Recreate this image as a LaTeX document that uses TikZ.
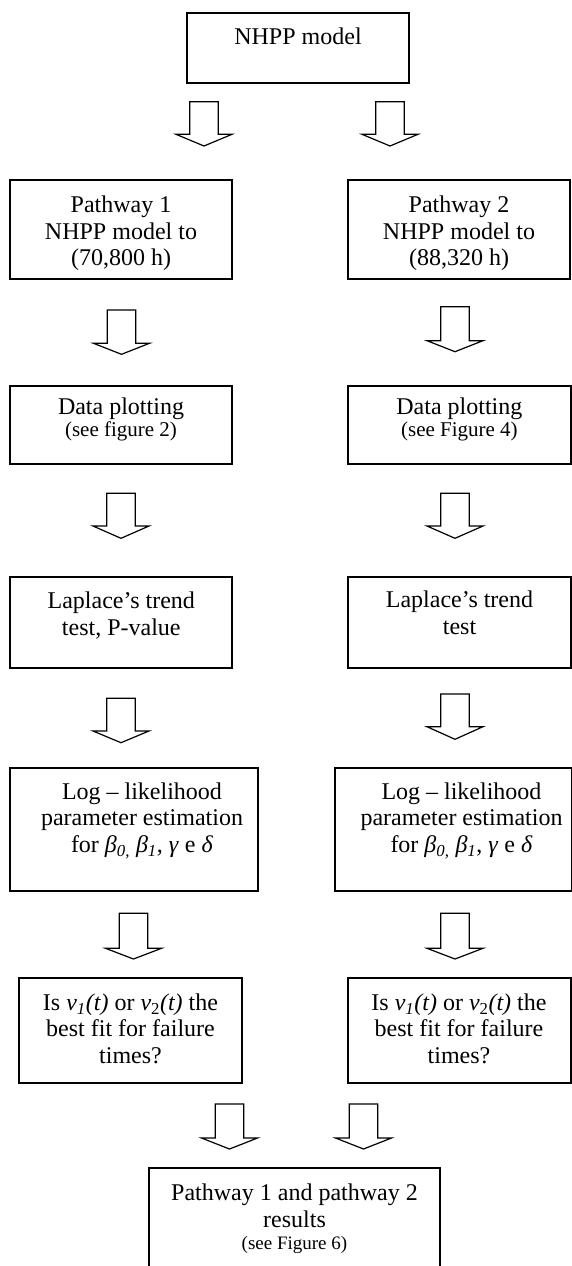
\documentclass[tikz,border=0pt]{standalone}
\usepackage{fontspec}
\setmainfont{Liberation Serif}
\usetikzlibrary{fit}
\newcommand{\blockarr}[4]{%
  \draw[arrowline] (#1-14.3,#2) -- (#1+14.3,#2) -- (#1+14.3,#3) -- (#1+28,#3)
    -- (#1,#4) -- (#1-28,#3) -- (#1-14.3,#3) -- cycle;}
\newcommand{\sm}[2]{{\fontsize{#1}{#1}\selectfont #2}}
\begin{document}
\begin{tikzpicture}[x=1pt,y=-1pt,
  box/.style={draw, line width=1.2pt, inner sep=0pt},
  txt/.style={align=center, inner sep=0pt, font=\fontsize{24}{26.7}\selectfont},
  arrowline/.style={draw, line width=1.2pt, line join=miter, fill=white}]
\useasboundingbox (0,0) rectangle (572,1266);
% boxes
\node[box, fit={(187,13) (409,83)}] (top) {};
\node[box, fit={(10,180) (232,279)}] (p1) {};
\node[box, fit={(348,180) (570,279)}] (p2) {};
\node[box, fit={(10,386) (232,464)}] (d1) {};
\node[box, fit={(348,386) (571,464)}] (d2) {};
\node[box, fit={(10,577) (232,668)}] (l1) {};
\node[box, fit={(348,577) (571,668)}] (l2) {};
\node[box, fit={(10,768) (258,891)}] (g1) {};
\node[box, fit={(335,768) (571.4,891)}] (g2) {};
\node[box, fit={(19,978) (242,1083)}] (i1) {};
\node[box, fit={(348,978) (571,1083)}] (i2) {};
\node[box, fit={(149,1168) (440,1272)}] (res) {};
% texts
\node[txt] (topT) at (298,35.8) {NHPP model};
\node[txt] (p1T) at (121,233.3) {Pathway 1\\NHPP model to\\(70,800 h)};
\node[txt] (p2T) at (459,233.3) {Pathway 2\\NHPP model to\\(88,320 h)};
\node[txt] (d1T) at (121,419.7) {Data plotting\\[-4.4pt]\sm{21}{(see figure 2)}};
\node[txt] (d2T) at (459.4,419.7) {Data plotting\\[-4.4pt]\sm{21}{(see Figure 4)}};
\node[txt] (l1T) at (121.3,615.5) {Laplace’s trend\\test, P-value};
\node[txt] (l2T) at (459.5,612.9) {Laplace’s trend\\test};
\node[txt] (g1T) at (142,820.6) {Log – likelihood\\parameter estimation\\for \textit{β}\textsubscript{\textit{0,}} \textit{β}\textsubscript{\textit{1}}, \textit{γ} e \textit{δ}};
\node[txt] (g2T) at (461.5,820.6) {Log – likelihood\\parameter estimation\\for \textit{β}\textsubscript{\textit{0,}} \textit{β}\textsubscript{\textit{1}}, \textit{γ} e \textit{δ}};
\node[txt] (i1T) at (130.5,1028.8) {Is \textit{v}\textsubscript{\textit{1}}\textit{(t)} or \textit{v}\textsubscript{2}\textit{(t)} the\\best fit for failure\\times?};
\node[txt] (i2T) at (459,1028.8) {Is \textit{v}\textsubscript{\textit{1}}\textit{(t)} or \textit{v}\textsubscript{2}\textit{(t)} the\\best fit for failure\\times?};
\node[txt] (resT) at (294.5,1218.8) {Pathway 1 and pathway 2\\results\\[-5pt]\sm{19}{(see Figure 6)}};
% block arrows
\blockarr{204}{101.7}{134.3}{146}
\blockarr{390}{101.7}{134.3}{146}
\blockarr{121.5}{310}{343.3}{354.3}
\blockarr{455}{306.7}{340.7}{351.7}
\blockarr{121}{493.3}{526}{538.3}
\blockarr{455}{493.3}{526}{538.3}
\blockarr{121}{698.3}{731}{742.7}
\blockarr{455}{694}{726.7}{739.3}
\blockarr{133.5}{913.3}{948.3}{959}
\blockarr{455}{913.3}{948.3}{959}
\blockarr{229.5}{1104}{1138}{1149}
\blockarr{363.5}{1104}{1138}{1149}
\end{tikzpicture}
\end{document}
